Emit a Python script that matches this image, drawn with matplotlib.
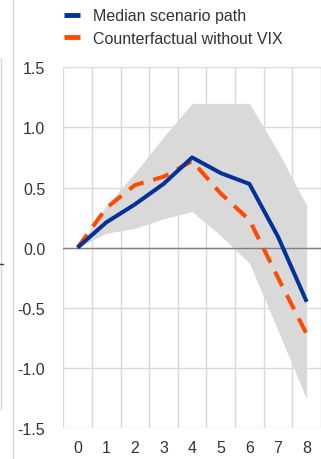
import matplotlib.pyplot as plt
from matplotlib.lines import Line2D

plt.rcParams['font.family'] = ['Liberation Sans', 'DejaVu Sans']

# quarters after the shock
quarters = [0, 1, 2, 3, 4, 5, 6, 7, 8]
median_path = [0, 0.21, 0.36, 0.53, 0.75, 0.62, 0.53, 0.09, -0.45]
no_vix_path = [0, 0.33, 0.52, 0.59, 0.72, 0.45, 0.23, -0.25, -0.72]
band_upper = [0, 0.35, 0.62, 0.92, 1.2, 1.2, 1.2, 0.80, 0.35]
band_lower = [0, 0.12, 0.16, 0.24, 0.30, 0.10, -0.13, -0.69, -1.26]
yticks = [-1.5, -1.0, -0.5, 0.0, 0.5, 1.0, 1.5]

blue = '#003299'
orange = '#ff4b00'
grid = '#d9d9d9'
text = '#333333'

fig = plt.figure(figsize=(3.21, 4.6), dpi=100)
ax = fig.add_axes([63.3 / 321, 31 / 460, (321 - 63.3) / 321, (429 - 68.3) / 460])

ax.fill_between(quarters, band_lower, band_upper, color=grid, lw=0, zorder=1)
ax.axhline(0, color='#808080', lw=1, zorder=2)
ax.plot(quarters, median_path, color=blue, lw=2.9, solid_joinstyle='round',
        solid_capstyle='butt', zorder=4, label='Median scenario path')
ax.plot(quarters, no_vix_path, color=orange, lw=2.9, dashes=(4, 2.5),
        dash_capstyle='butt', zorder=3, label='Counterfactual without VIX')

ax.set_xlim(-0.5, 8.5)
ax.set_ylim(-1.5, 1.5)
ax.set_xticks(quarters)
ax.set_xticklabels([str(q) for q in quarters])
ax.set_yticks(yticks)
ax.set_yticklabels([f'{v:.1f}' for v in yticks])
ax.set_xticks([q - 0.5 for q in quarters] + [8.5], minor=True)

ax.grid(False)
ax.xaxis.grid(True, which='minor', color=grid, lw=1)
ax.yaxis.grid(True, which='major', color=grid, lw=1)
ax.set_axisbelow(True)
for s in ax.spines.values():
    s.set_visible(False)
ax.tick_params(which='both', length=0)
ax.tick_params(axis='y', pad=13, labelsize=11.5, labelcolor=text)
ax.tick_params(axis='x', pad=9, labelsize=11.5, labelcolor=text)

handles = [Line2D([], [], color=blue, lw=3.5, solid_capstyle='butt'),
           Line2D([], [], color=orange, lw=3.5, solid_capstyle='butt')]
fig.legend(handles, ['Median scenario path', 'Counterfactual without VIX'],
           loc='upper left', bbox_to_anchor=(57.5 / 321, 1 - 3 / 460),
           frameon=False, fontsize=11.5, labelcolor=text, handlelength=1.0,
           handletextpad=0.8, labelspacing=0.45, borderaxespad=0)

# bits of the neighbouring panel at the left edge
fig.add_artist(Line2D([13 / 321, 13 / 321], [0, 1], color=grid, lw=1))
fig.add_artist(Line2D([1.5 / 321, 1.5 / 321], [1 - 410 / 460, 1 - 59 / 460],
                      color=grid, lw=1))
fig.add_artist(Line2D([0, 3 / 321], [1 - 265 / 460, 1 - 265 / 460],
                      color='#404040', lw=1))

fig.savefig('out.png', dpi=100)
